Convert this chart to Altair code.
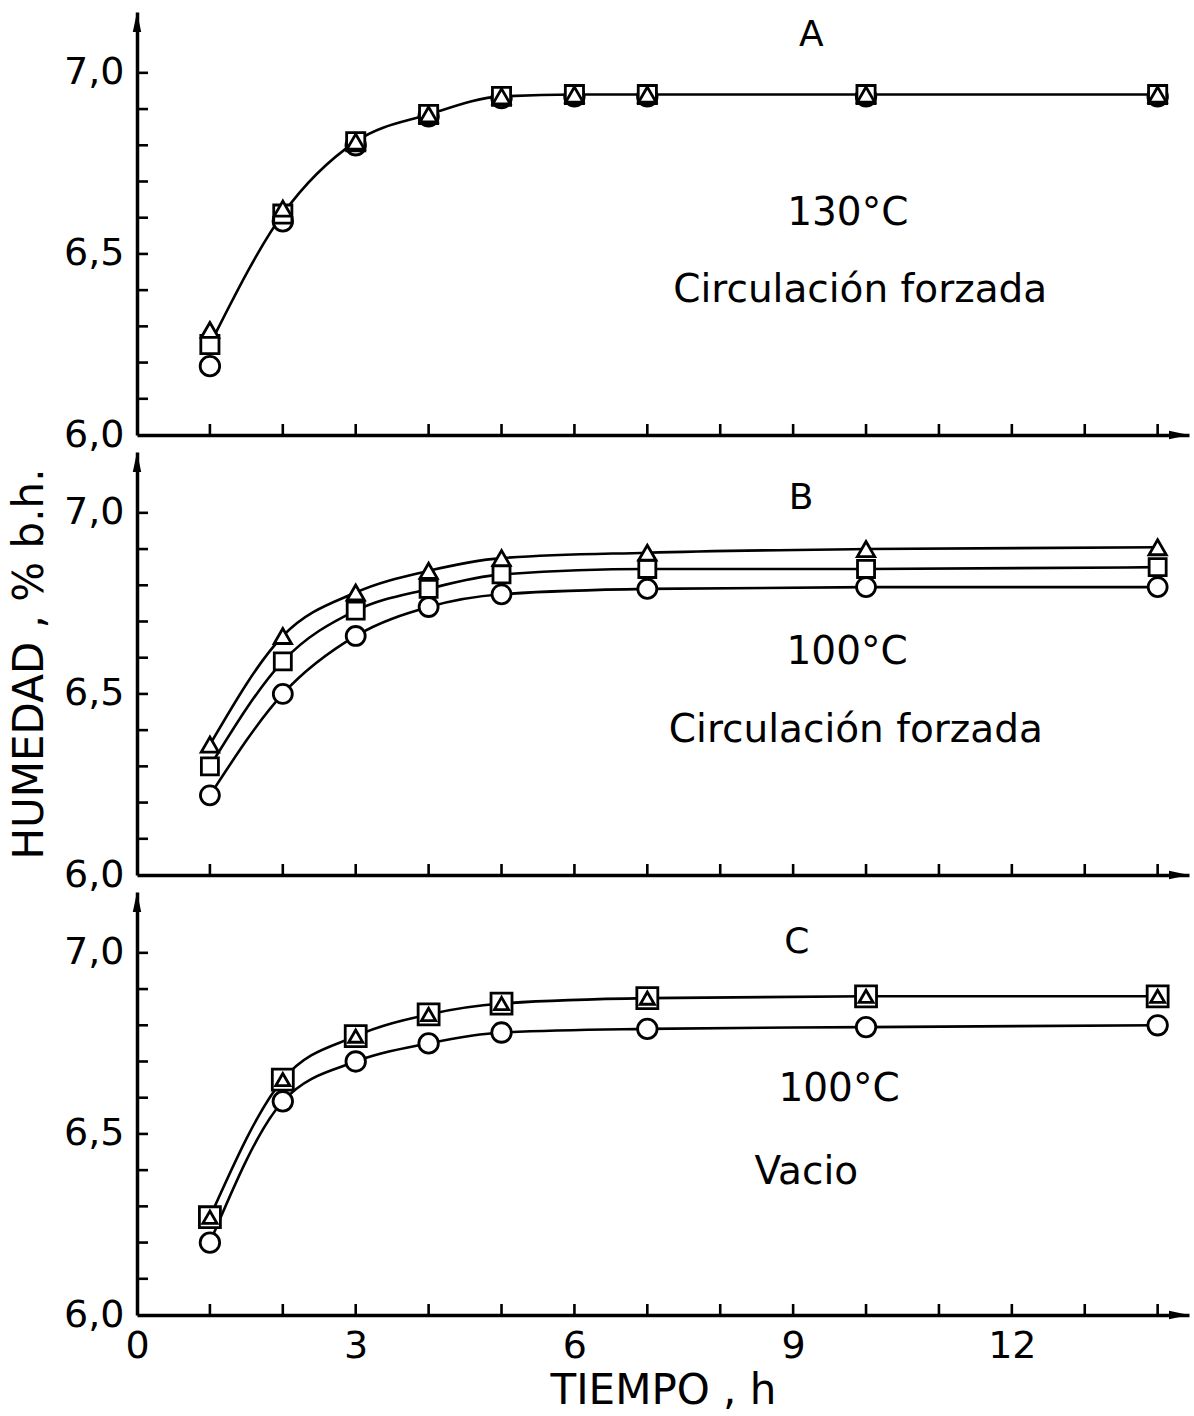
import altair as alt
import pandas as pd

# ---------------- data ----------------
time_A = [1, 2, 3, 4, 5, 6, 7, 10, 14]
A_circle = [6.19, 6.59, 6.80, 6.88, 6.93, 6.935, 6.935, 6.935, 6.935]
A_square = [6.25, 6.61, 6.81, 6.885, 6.935, 6.94, 6.94, 6.94, 6.94]
A_triangle = [6.29, 6.625, 6.81, 6.885, 6.935, 6.94, 6.94, 6.94, 6.94]

time_BC = [1, 2, 3, 4, 5, 7, 10, 14]
B_circle = [6.22, 6.50, 6.66, 6.74, 6.775, 6.79, 6.795, 6.795]
B_square = [6.30, 6.59, 6.73, 6.79, 6.83, 6.845, 6.845, 6.85]
B_triangle = [6.36, 6.66, 6.78, 6.84, 6.875, 6.89, 6.90, 6.905]

C_circle = [6.20, 6.59, 6.70, 6.75, 6.78, 6.79, 6.795, 6.80]
C_square = [6.27, 6.65, 6.77, 6.83, 6.86, 6.875, 6.88, 6.88]
C_triangle = [6.27, 6.65, 6.77, 6.83, 6.86, 6.875, 6.88, 6.88]

A_text = ["A", "130°C", "Circulación forzada"]
A_tx = [9.25, 9.75, 9.92]
A_ty = [7.105, 6.613, 6.40]
B_text = ["B", "100°C", "Circulación forzada"]
B_tx = [9.11, 9.74, 9.86]
B_ty = [7.041, 6.616, 6.40]
C_text = ["C", "100°C", "Vacio"]
C_tx = [9.05, 9.63, 9.18]
C_ty = [7.03, 6.624, 6.395]

y_label_values = [6.0, 6.5, 7.0]
y_minor_ticks = [6.1, 6.2, 6.3, 6.4, 6.5, 6.6, 6.7, 6.8, 6.9, 7.0]
x_label_values = [0, 3, 6, 9, 12]
x_minor_ticks = [1, 2, 3, 4, 5, 6, 7, 8, 9, 10, 11, 12, 13, 14]

Y_TITLE = "HUMEDAD  ,  %  b.h."
X_TITLE = "TIEMPO  ,  h"

# ---------------- style ----------------
W, H = 1052, 423
XDOM = [0, 14.43]
YDOM = [6.0, 7.168]
FONT = "DejaVu Sans"
LW = 2.6

xscale = alt.Scale(domain=XDOM, nice=False, zero=False)
yscale = alt.Scale(domain=YDOM, nice=False, zero=False)

shapes = {"circle": "circle", "square": "square", "triangle": "triangle-up"}


def make_panel(times, series, texts, tx, ty, sizes, line_series, show_x, y_title):
    rows = []
    for name, vals in series:
        for t, v in zip(times, vals):
            rows.append({"t": t, "v": v, "s": name})
    df = pd.DataFrame(rows)

    xaxis = alt.Axis(values=x_label_values, labels=show_x, ticks=False, tickSize=0,
                     grid=False, domainColor="black", domainWidth=3.5,
                     labelFont=FONT, labelFontSize=38, labelColor="black",
                     labelPadding=12, labelFlush=False, labelOverlap=False,
                     title=X_TITLE if show_x else None,
                     titleFont=FONT, titleFontSize=42, titleFontWeight="normal",
                     titleColor="black", titlePadding=5)
    yaxis = alt.Axis(values=y_label_values,
                     labelExpr="replace(format(datum.value, '.1f'), '.', ',')",
                     ticks=False, tickSize=0, grid=False, domainColor="black",
                     domainWidth=3.5, labelFont=FONT, labelFontSize=38,
                     labelColor="black", labelPadding=13, labelFlush=False,
                     labelOverlap=False,
                     title=y_title, titleFont=FONT, titleFontSize=42,
                     titleFontWeight="normal", titleColor="black", titlePadding=12)

    X = lambda f: alt.X(f, scale=xscale, axis=xaxis)
    Y = lambda f: alt.Y(f, scale=yscale, axis=yaxis)

    layers = []
    for name in line_series:
        layers.append(
            alt.Chart(df).transform_filter(alt.datum.s == name)
            .mark_line(interpolate="monotone", color="black", strokeWidth=LW)
            .encode(x=X("t:Q"), y=Y("v:Q"))
        )

    layers.append(
        alt.Chart(pd.DataFrame({"v": y_minor_ticks}))
        .mark_rule(color="black", strokeWidth=2.6)
        .encode(y=Y("v:Q"), x=alt.value(0), x2=alt.value(11))
    )
    layers.append(
        alt.Chart(pd.DataFrame({"t": x_minor_ticks}))
        .mark_rule(color="black", strokeWidth=2.6)
        .encode(x=X("t:Q"), y=alt.value(H), y2=alt.value(H - 11))
    )

    for name, _ in series:
        layers.append(
            alt.Chart(df).transform_filter(alt.datum.s == name)
            .mark_point(shape=shapes[name], size=sizes[name], filled=True,
                        fill="white", stroke="black", strokeWidth=2.8, opacity=1)
            .encode(x=X("t:Q"), y=Y("v:Q"))
        )

    tdf = pd.DataFrame({"t": tx, "v": ty, "label": texts,
                        "fs": [36] + [39] * (len(texts) - 1)})
    layers.append(
        alt.Chart(tdf).mark_text(font=FONT, color="black", align="center",
                                 baseline="middle")
        .encode(x=X("t:Q"), y=Y("v:Q"), text="label:N",
                size=alt.Size("fs:Q", scale=None, legend=None))
    )

    dummy = pd.DataFrame({"a": [0]})
    layers.append(
        alt.Chart(dummy).mark_point(shape="M0,-1L0.42,1L-0.42,1Z", filled=True,
                                    color="black", size=400, opacity=1)
        .encode(x=alt.value(0), y=alt.value(10))
    )
    layers.append(
        alt.Chart(dummy).mark_point(shape="M1,0L-1,0.42L-1,-0.42Z", filled=True,
                                    color="black", size=400, opacity=1)
        .encode(x=alt.value(W - 10), y=alt.value(H))
    )

    return alt.layer(*layers).properties(width=W, height=H)


panel_A = make_panel(time_A,
                     [("circle", A_circle), ("square", A_square), ("triangle", A_triangle)],
                     A_text, A_tx, A_ty,
                     {"circle": 380, "square": 330, "triangle": 300},
                     ["square"], False, None)
panel_B = make_panel(time_BC,
                     [("circle", B_circle), ("square", B_square), ("triangle", B_triangle)],
                     B_text, B_tx, B_ty,
                     {"circle": 360, "square": 290, "triangle": 300},
                     ["circle", "square", "triangle"], False, Y_TITLE)
panel_C = make_panel(time_BC,
                     [("circle", C_circle), ("square", C_square), ("triangle", C_triangle)],
                     C_text, C_tx, C_ty,
                     {"circle": 380, "square": 440, "triangle": 200},
                     ["circle", "square"], True, None)

chart = (
    alt.vconcat(panel_A, panel_B, panel_C, spacing=17, bounds="flush")
    .properties(padding={"left": 8, "top": 12, "right": 2, "bottom": 2},
                background="white")
    .configure_view(stroke=None)
)

chart.save("out.html", embed_options={"renderer": "svg", "actions": False})
